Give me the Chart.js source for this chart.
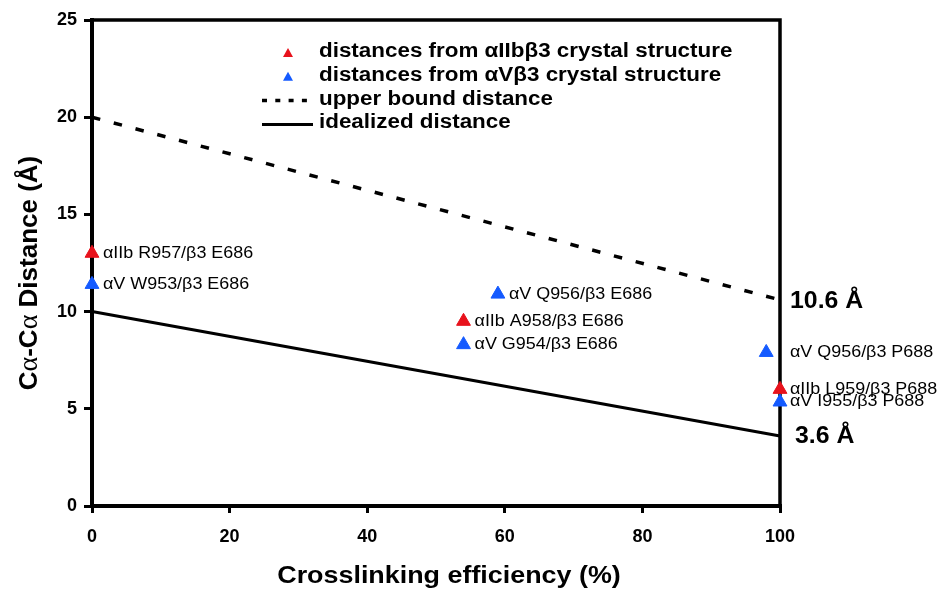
<!DOCTYPE html>
<html>
<head>
<meta charset="utf-8">
<script src="https://cdn.jsdelivr.net/npm/chart.js@4.4.0/dist/chart.umd.min.js"></script>
<style>
html, body { margin: 0; padding: 0; background: #fff; }
</style>
</head>
<body>
<canvas id="grafico" width="945" height="590"></canvas>
<script>
"use strict";
// eixos
var xTicks = [0, 20, 40, 60, 80, 100];
var yTicks = [0, 5, 10, 15, 20, 25];

// distancias aIIb b3 (vermelho)
var iibX = [0, 54, 100];
var iibY = [13.0, 9.5, 6.0];
var iibNomes = ["αIIb R957/β3 E686", "αIIb A958/β3 E686", "αIIb L959/β3 P688"];

// distancias aV b3 (azul)
var avX = [0, 59, 54, 98, 100];
var avY = [11.4, 10.9, 8.3, 7.9, 5.35];
var avNomes = ["αV W953/β3 E686", "αV Q956/β3 E686", "αV G954/β3 E686", "αV Q956/β3 P688", "αV I955/β3 P688"];

// retas
var limiteX = [0, 100];
var limiteY = [20, 10.6];
var idealX = [0, 100];
var idealY = [10, 3.6];

var legendas = ["distances from αIIbβ3 crystal structure", "distances from αVβ3 crystal structure",
    "upper bound distance", "idealized distance"];
var tituloX = "Crosslinking efficiency (%)";

var vermelho = "rgb(232, 18, 28)";
var azul = "rgb(20, 90, 255)";
var fonte = '"Liberation Sans", Arial, Helvetica, sans-serif';
var estica = 1.12; // o texto do original e mais largo

function pares(xs, ys) {
    var r = [];
    for (var i = 0; i <= xs.length - 1; i++) {
        r.push({x: xs[i], y: ys[i]});
    }
    return r;
}

function texto(ctx, str, x, y, alinh, esc) {
    ctx.save();
    ctx.translate(x, y);
    ctx.scale(esc, 1);
    ctx.textAlign = alinh;
    ctx.fillText(str, 0, 0);
    ctx.restore();
}

function triangulo(ctx, cx, top, w, h, cor) {
    ctx.fillStyle = cor;
    ctx.beginPath();
    ctx.moveTo(cx, top);
    ctx.lineTo(cx + w / 2, top + h);
    ctx.lineTo(cx - w / 2, top + h);
    ctx.closePath();
    ctx.fill();
}

var extras = {
    id: "extras",
    beforeDatasetsDraw: function (chart) {
        // moldura superior e direita
        var ctx = chart.ctx;
        var a = chart.chartArea;
        ctx.save();
        ctx.strokeStyle = "#000";
        ctx.lineWidth = 3.5;
        ctx.beginPath();
        ctx.moveTo(a.left, a.top);
        ctx.lineTo(a.right, a.top);
        ctx.lineTo(a.right, a.bottom + 1);
        ctx.stroke();
        ctx.restore();
    },
    afterDatasetsDraw: function (chart) {
        var ctx = chart.ctx;
        var a = chart.chartArea;
        var sx = chart.scales.x, sy = chart.scales.y;
        ctx.save();

        // nomes dos pontos
        ctx.fillStyle = "#000";
        ctx.textBaseline = "middle";
        ctx.font = "16px " + fonte;
        [[iibX, iibY, iibNomes], [avX, avY, avNomes]].forEach(function (s) {
            for (var i = 0; i <= s[0].length - 1; i++) {
                var px = sx.getPixelForValue(s[0][i]);
                var py = sy.getPixelForValue(s[1][i]);
                var tx = (a.right - px < 20) ? a.right + 10 : px + 11;
                texto(ctx, s[2][i], tx, py, "left", estica);
            }
        });

        // valores no fim das retas
        ctx.font = "bold 23px " + fonte;
        texto(ctx, limiteY[1] + " Å", a.right + 10, sy.getPixelForValue(limiteY[1]) + 2, "left", 1.08);
        texto(ctx, idealY[1] + " Å", a.right + 15, sy.getPixelForValue(idealY[1]) + 1, "left", 1.08);

        // legenda
        ctx.textBaseline = "alphabetic";
        ctx.font = "bold 20px " + fonte;
        for (var j = 0; j <= legendas.length - 1; j++) {
            var base = 57 + 23.8 * j;
            if (j === 0) triangulo(ctx, 288, base - 9, 10, 9, vermelho);
            if (j === 1) triangulo(ctx, 288, base - 9, 10, 9, azul);
            if (j >= 2) {
                ctx.strokeStyle = "#000";
                ctx.lineWidth = j === 2 ? 3.5 : 3;
                ctx.setLineDash(j === 2 ? [5, 8.3] : []);
                ctx.beginPath();
                ctx.moveTo(262, base - 4);
                ctx.lineTo(313, base - 4);
                ctx.stroke();
                ctx.setLineDash([]);
            }
            ctx.fillStyle = "#000";
            texto(ctx, legendas[j], 319, base, "left", estica);
        }

        // titulo x
        ctx.font = "bold 24px " + fonte;
        texto(ctx, tituloX, 449, 583, "center", estica);

        // titulo y com alfa em serifa
        var fB = "bold 25px " + fonte;
        var fS = '27px "Liberation Serif", "DejaVu Serif", serif';
        var partes = [["C", fB], ["α", fS], ["-C", fB], ["α", fS], [" Distance (Å)", fB]];
        var total = 0;
        partes.forEach(function (p) { ctx.font = p[1]; total += ctx.measureText(p[0]).width; });
        ctx.translate(28, 273);
        ctx.rotate(-Math.PI / 2);
        ctx.scale(1.04, 1);
        ctx.textAlign = "left";
        var xr = -total / 2;
        partes.forEach(function (p) {
            ctx.font = p[1];
            ctx.fillText(p[0], xr, 9);
            xr += ctx.measureText(p[0]).width;
        });
        ctx.restore();
    }
};

var borda = {color: "#000", width: 4};

var ctx = document.getElementById("grafico").getContext("2d");
var grafico = new Chart(ctx, {
    type: "scatter",
    data: {
        datasets: [
            {label: legendas[0], data: pares(iibX, iibY), pointStyle: "triangle", pointRadius: 8,
                backgroundColor: vermelho, borderColor: vermelho, borderWidth: 1, showLine: false, clip: false},
            {label: legendas[1], data: pares(avX, avY), pointStyle: "triangle", pointRadius: 8,
                backgroundColor: azul, borderColor: azul, borderWidth: 1, showLine: false, clip: false},
            {label: legendas[2], data: pares(limiteX, limiteY), showLine: true, borderColor: "#000",
                borderWidth: 3.5, borderDash: [8.5, 14], pointRadius: 0, clip: false},
            {label: legendas[3], data: pares(idealX, idealY), showLine: true, borderColor: "#000",
                borderWidth: 3, pointRadius: 0, clip: false}
        ]
    },
    options: {
        responsive: false,
        animation: false,
        layout: {padding: {left: 0, top: 20, right: 165, bottom: 0}},
        plugins: {
            legend: {display: false},
            tooltip: {enabled: false}
        },
        scales: {
            x: {
                type: "linear", min: 0, max: 100,
                afterBuildTicks: function (s) { s.ticks = xTicks.map(function (v) { return {value: v}; }); },
                ticks: {color: "#000", padding: 13, maxRotation: 0, font: {family: fonte, size: 18, weight: "bold"}},
                grid: {drawOnChartArea: false, tickLength: 7, color: "#000", lineWidth: 3},
                border: borda,
                afterFit: function (s) { s.height = 84; }
            },
            y: {
                min: 0, max: 25,
                afterBuildTicks: function (s) { s.ticks = yTicks.map(function (v) { return {value: v}; }); },
                ticks: {color: "#000", padding: 7, font: {family: fonte, size: 18, weight: "bold"}},
                grid: {drawOnChartArea: false, tickLength: 8, color: "#000", lineWidth: 3},
                border: borda,
                afterFit: function (s) { s.width = 92; }
            }
        }
    },
    plugins: [extras]
});
</script>
</body>
</html>
